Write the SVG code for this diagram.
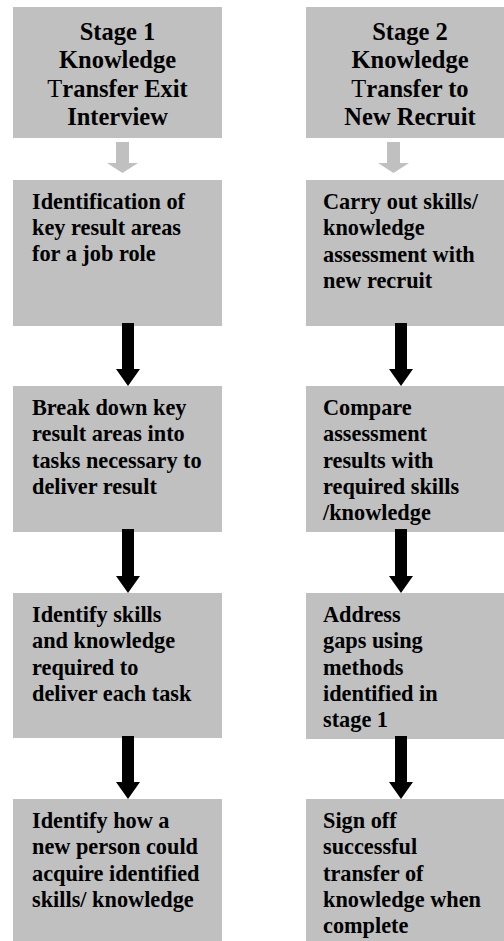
<svg xmlns="http://www.w3.org/2000/svg" width="504" height="941" viewBox="0 0 504 941">
<style>
.box{fill:#c0c0c0}
.t{font-family:"Liberation Serif","Times New Roman",serif;font-weight:bold;font-size:22.3px;fill:#000}
.h{font-family:"Liberation Serif","Times New Roman",serif;font-weight:bold;font-size:24.5px;fill:#000;text-anchor:middle}
.n{font-weight:normal}
.ga{fill:#c0c0c0}
.ba{fill:#000}
</style>
<rect width="504" height="941" fill="#fff"/>
<g id="stage1-header">
<rect class="box" x="13" y="7" width="209" height="131"/>
<text class="h" x="117.5" y="40">Stage 1</text>
<text class="h" x="117.5" y="68.3">Knowledge</text>
<text class="h" x="117.5" y="96.6"><tspan class="n">T</tspan>ransfer Exit</text>
<text class="h" x="117.5" y="125">Interview</text>
</g>
<g id="stage2-header">
<rect class="box" x="306" y="7" width="209" height="131"/>
<text class="h" x="410" y="40">Stage 2</text>
<text class="h" x="410" y="68.3">Knowledge</text>
<text class="h" x="410" y="96.6"><tspan class="n">T</tspan>ransfer to</text>
<text class="h" x="410" y="125">New Recruit</text>
</g>
<g id="s1-step1">
<rect class="box" x="13" y="180" width="209" height="146"/>
<text class="t" x="32" y="209">Identification of</text>
<text class="t" x="32" y="235">key result areas</text>
<text class="t" x="32" y="261">for a job role</text>
</g>
<g id="s1-step2">
<rect class="box" x="13" y="386" width="209" height="146"/>
<text class="t" x="32" y="415">Break down key</text>
<text class="t" x="32" y="441.3">result areas into</text>
<text class="t" x="32" y="467.6">tasks necessary to</text>
<text class="t" x="32" y="493.9">deliver result</text>
</g>
<g id="s1-step3">
<rect class="box" x="13" y="593" width="209" height="145"/>
<text class="t" x="32" y="622">Identify skills</text>
<text class="t" x="32" y="648.3">and knowledge</text>
<text class="t" x="32" y="674.6">required to</text>
<text class="t" x="32" y="700.9">deliver each task</text>
</g>
<g id="s1-step4">
<rect class="box" x="13" y="799" width="209" height="142"/>
<text class="t" x="32" y="828">Identify how a</text>
<text class="t" x="32" y="854.3">new person could</text>
<text class="t" x="32" y="880.6">acquire identified</text>
<text class="t" x="32" y="906.9">skills/ knowledge</text>
</g>
<g id="s2-step1">
<rect class="box" x="306" y="180" width="209" height="146"/>
<text class="t" x="323" y="209">Carry out skills/</text>
<text class="t" x="323" y="235.3">knowledge</text>
<text class="t" x="323" y="261.6">assessment with</text>
<text class="t" x="323" y="287.9">new recruit</text>
</g>
<g id="s2-step2">
<rect class="box" x="306" y="386" width="209" height="146"/>
<text class="t" x="323" y="415">Compare</text>
<text class="t" x="323" y="441.3">assessment</text>
<text class="t" x="323" y="467.6">results with</text>
<text class="t" x="323" y="493.9">required skills</text>
<text class="t" x="323" y="520.2">/knowledge</text>
</g>
<g id="s2-step3">
<rect class="box" x="306" y="593" width="209" height="146"/>
<text class="t" x="323" y="622">Address</text>
<text class="t" x="323" y="648.3">gaps using</text>
<text class="t" x="323" y="674.6">methods</text>
<text class="t" x="323" y="700.9">identified in</text>
<text class="t" x="323" y="727.2">stage 1</text>
</g>
<g id="s2-step4">
<rect class="box" x="306" y="799" width="209" height="142"/>
<text class="t" x="323" y="828">Sign off</text>
<text class="t" x="323" y="854.3">successful</text>
<text class="t" x="323" y="880.6">transfer of</text>
<text class="t" x="323" y="906.9">knowledge when</text>
<text class="t" x="323" y="933.2">complete</text>
</g>
<g id="connectors">
<path class="ga" d="M116,142H129V163H138L122.5,173L107,163H116Z"/>
<path class="ga" d="M387,142H400V163H409L393.5,173L378,163H387Z"/>
<path class="ba" d="M122,323H134V369H140L128,386L116,369H122Z"/>
<path class="ba" d="M122,529H134V576H140L128,593L116,576H122Z"/>
<path class="ba" d="M122,736H134V782H140L128,799L116,782H122Z"/>
<path class="ba" d="M395,323H407V369H413L401,386L389,369H395Z"/>
<path class="ba" d="M395,529H407V576H413L401,593L389,576H395Z"/>
<path class="ba" d="M395,736H407V782H413L401,799L389,782H395Z"/>
</g>
</svg>
